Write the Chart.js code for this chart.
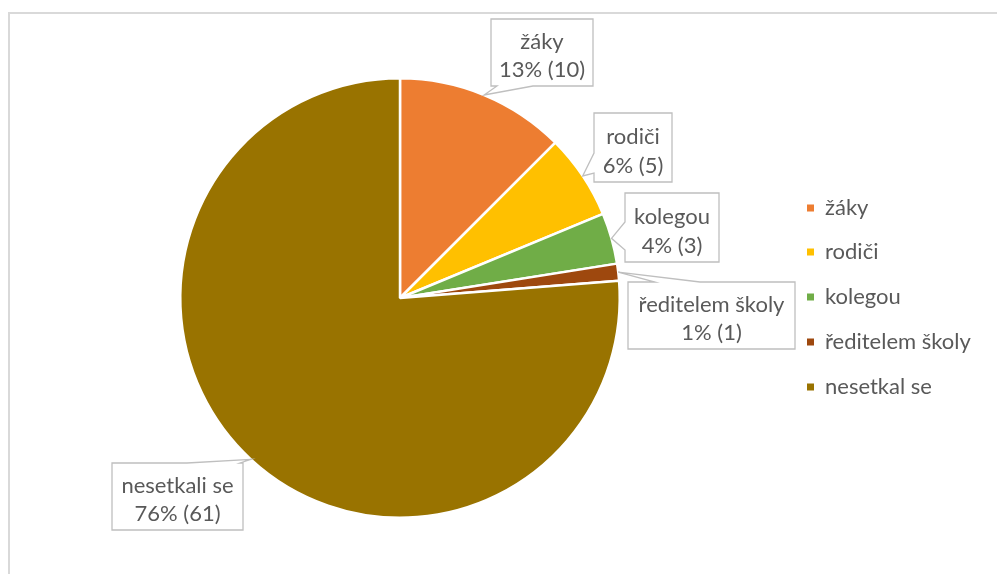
<!DOCTYPE html>
<html>
<head>
<meta charset="utf-8">
<script src="https://cdn.jsdelivr.net/npm/chart.js@4.4.1/dist/chart.umd.min.js"></script>
<style>
  html, body { margin: 0; padding: 0; background: #fff; overflow: hidden; }
  #frame { position: absolute; left: 8px; top: 12px; width: 1100px; height: 700px; border: 2px solid #d9d9d9; box-sizing: border-box; }
  #wrap { position: absolute; left: 0; top: 0; width: 997px; height: 574px; }
</style>
</head>
<body>
<div id="frame"></div>
<div id="wrap"><canvas id="pieChart" width="997" height="574"></canvas></div>
<script>
// Data
const categories = ['žáky', 'rodiči', 'kolegou', 'ředitelem školy', 'nesetkal se'];
const calloutNames = ['žáky', 'rodiči', 'kolegou', 'ředitelem školy', 'nesetkali se'];
const counts = [10, 5, 3, 1, 61];
const colors = ['#ED7D31', '#FFC000', '#70AD47', '#9E480E', '#997300'];

const FONT = "22px Lato, 'Open Sans', sans-serif";
const TEXT = '#595959';
const LINE = '#bfbfbf';

// Callout boxes (layout only); pointer side + base along that side
const boxes = [
  { x: 491, y: 19,  w: 102, h: 67, side: 'bottom', a0: 497, a1: 533 },
  { x: 594, y: 113, w: 78,  h: 69, side: 'left',   a0: 153, a1: 173 },
  { x: 625, y: 193, w: 94,  h: 69, side: 'left',   a0: 222, a1: 250 },
  { x: 628, y: 282, w: 167, h: 67, side: 'top',    a0: 655, a1: 700 },
  { x: 112, y: 463, w: 131, h: 67, side: 'top',    a0: 187, a1: 240 }
];

function calloutPath(ctx, b, tx, ty) {
  const { x, y, w, h, side, a0, a1 } = b;
  ctx.beginPath();
  ctx.moveTo(x, y);
  if (side === 'top') { ctx.lineTo(a0, y); ctx.lineTo(tx, ty); ctx.lineTo(a1, y); }
  ctx.lineTo(x + w, y);
  ctx.lineTo(x + w, y + h);
  if (side === 'bottom') { ctx.lineTo(a1, y + h); ctx.lineTo(tx, ty); ctx.lineTo(a0, y + h); }
  ctx.lineTo(x, y + h);
  if (side === 'left') { ctx.lineTo(x, a1); ctx.lineTo(tx, ty); ctx.lineTo(x, a0); }
  ctx.closePath();
}

const calloutPlugin = {
  id: 'callouts',
  afterDatasetsDraw(chart) {
    const ctx = chart.ctx;
    const total = counts.reduce((a, b) => a + b, 0);
    const arcs = chart.getDatasetMeta(0).data;
    ctx.save();
    arcs.forEach((arc, i) => {
      const p = arc.getProps(['x', 'y', 'startAngle', 'endAngle', 'outerRadius'], true);
      const mid = (p.startAngle + p.endAngle) / 2;
      const tx = p.x + Math.cos(mid) * p.outerRadius;
      const ty = p.y + Math.sin(mid) * p.outerRadius;
      const b = boxes[i];
      calloutPath(ctx, b, tx, ty);
      ctx.fillStyle = '#fff';
      ctx.fill();
      ctx.lineWidth = 1.3;
      ctx.strokeStyle = LINE;
      ctx.stroke();
      ctx.fillStyle = TEXT;
      ctx.font = FONT;
      ctx.textAlign = 'center';
      ctx.textBaseline = 'middle';
      const cx = b.x + b.w / 2;
      const pct = Math.round(counts[i] / total * 100);
      ctx.fillText(calloutNames[i], cx, b.y + b.h * 0.34);
      ctx.fillText(pct + '% (' + counts[i] + ')', cx, b.y + b.h * 0.76);
    });

    // legend
    ctx.textAlign = 'left';
    const legendY = [208, 252, 297, 342, 387];
    categories.forEach((c, i) => {
      ctx.fillStyle = colors[i];
      ctx.fillRect(807, legendY[i] - 3.5, 7, 7);
      ctx.fillStyle = TEXT;
      ctx.fillText(c, 825, legendY[i]);
    });
    ctx.restore();
  }
};

new Chart(document.getElementById('pieChart'), {
  type: 'pie',
  data: {
    labels: categories,
    datasets: [{
      data: counts,
      backgroundColor: colors,
      borderColor: '#fff',
      borderWidth: 2.5
    }]
  },
  options: {
    responsive: false,
    animation: false,
    events: [],
    layout: { padding: { top: 77, bottom: 55, left: 179, right: 376 } },
    plugins: { legend: { display: false }, tooltip: { enabled: false } }
  },
  plugins: [calloutPlugin]
});
</script>
</body>
</html>
